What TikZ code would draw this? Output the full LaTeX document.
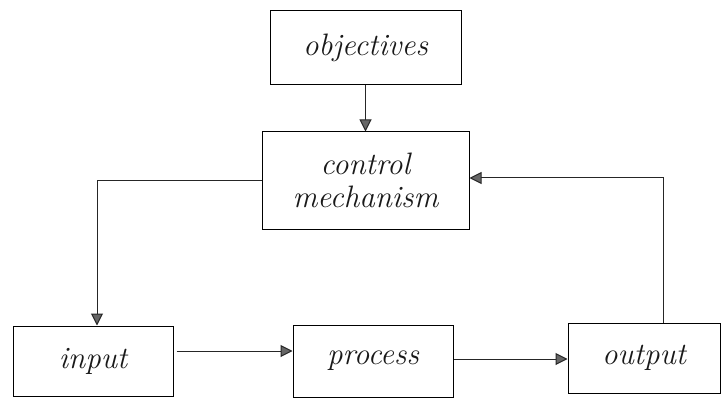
\documentclass[tikz,border=0pt]{standalone}
\usetikzlibrary{arrows.meta}
\begin{document}
\begin{tikzpicture}[x=1pt,y=-1pt,
  box/.style={draw=black, line width=1pt, inner sep=0pt, align=center,
    font=\fontsize{31}{33}\selectfont\itshape, text=black!90},
  arr/.style={draw=black!85, line width=1pt,
    -{Triangle[length=12pt,width=12pt,fill=black!60]}}]
\useasboundingbox (0,0) rectangle (722,398);
\node[box, minimum width=191pt, minimum height=74pt] (obj) at (365.5,48) {objectives};
\node[box, minimum width=207pt, minimum height=97pt] (ctl) at (365.5,180.5) {control\\mechanism};
\node[box, minimum width=160pt, minimum height=70pt] (inp) at (93,361) {input};
\node[box, minimum width=160pt, minimum height=72pt] (pro) at (373,361) {process};
\node[box, minimum width=152pt, minimum height=70pt] (out) at (644,358) {output};
\draw[arr] (obj.south) -- (ctl.north);
\draw[arr] (ctl.west) -| ([xshift=4pt]inp.north);
\draw[arr] ([xshift=3pt,yshift=10pt]inp.east) -- ([yshift=10pt]pro.west);
\draw[arr] ([yshift=2pt]pro.east) -- ([yshift=-1pt]out.west);
\draw[arr] ([xshift=19pt]out.north) |- ([yshift=2.5pt]ctl.east);
\end{tikzpicture}
\end{document}
